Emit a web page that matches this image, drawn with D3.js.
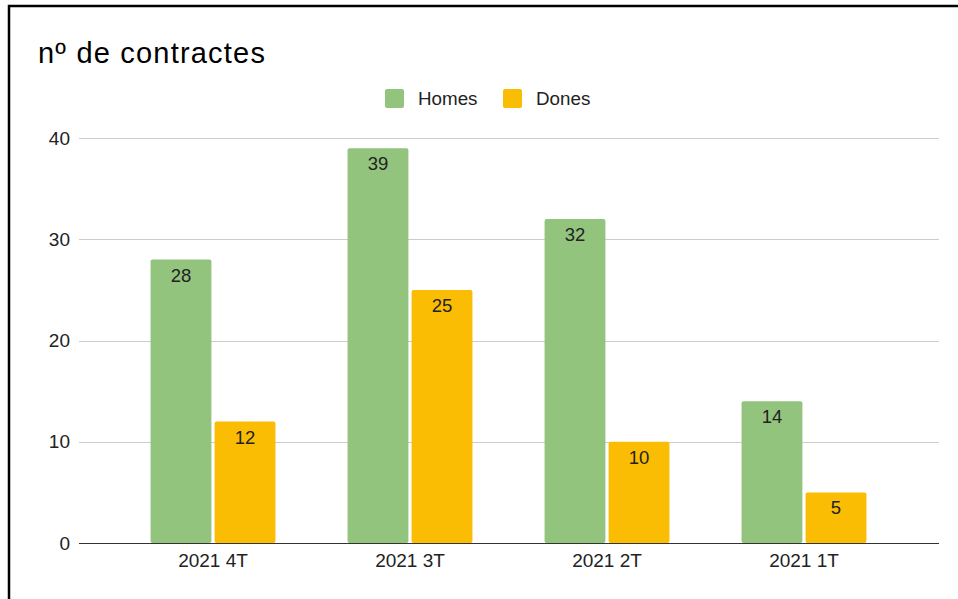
<!DOCTYPE html>
<html><head><meta charset="utf-8">
<script src="https://cdn.jsdelivr.net/npm/d3@7"></script>
<style>body{margin:0;background:#fff}svg{display:block}text{font-family:"Liberation Sans",Arial,sans-serif}</style>
</head><body>
<script>
const categories = ["2021 4T", "2021 3T", "2021 2T", "2021 1T"];
const seriesNames = ["Homes", "Dones"];
const homes = [28, 39, 32, 14];
const dones = [12, 25, 10, 5];
const yTicks = [0, 10, 20, 30, 40];
const title = "nº de contractes";
const colors = ["#93c47d", "#fbbc04"];

const W = 958, H = 599;
const svg = d3.select("body").append("svg").attr("width", W).attr("height", H);

// frame
svg.append("rect").attr("x", 9).attr("y", 6).attr("width", 1000).attr("height", 700)
  .attr("fill", "#fff").attr("stroke", "#000").attr("stroke-width", 2.5);

svg.append("text").attr("x", 38).attr("y", 63).attr("font-size", 29).attr("letter-spacing", "1.2px")
  .attr("fill", "#000").text(title);

const y = d3.scaleLinear().domain([0, 40]).range([543, 138]);
const x = d3.scaleBand().domain(categories).range([114.5, 902.5]).paddingInner(0.366).paddingOuter(0.183);
const xs = d3.scaleBand().domain(seriesNames).range([0, x.bandwidth()]).paddingInner(0.05);

// gridlines
svg.append("g").selectAll("line").data(yTicks.filter(d => d !== 0)).join("line")
  .attr("x1", 79).attr("x2", 939).attr("y1", d => Math.round(y(d)) + 0.5).attr("y2", d => Math.round(y(d)) + 0.5)
  .attr("stroke", "#cccccc").attr("stroke-width", 1);

// y axis labels
const yAxis = d3.axisLeft(y).tickValues(yTicks).tickSize(0).tickPadding(0);
const yg = svg.append("g").attr("transform", "translate(70,0)").call(yAxis);
yg.select(".domain").remove();
yg.selectAll("text").attr("font-size", 19).attr("fill", "#222").attr("font-family", "Liberation Sans, Arial, sans-serif");

const data = categories.map((c, i) => ({cat: c, vals: [homes[i], dones[i]]}));
const groups = svg.append("g").selectAll("g").data(data).join("g")
  .attr("transform", d => `translate(${x(d.cat)},0)`);

groups.selectAll("rect").data(d => d.vals.map((v, j) => ({v, s: seriesNames[j], j}))).join("rect")
  .attr("x", d => xs(d.s)).attr("width", xs.bandwidth())
  .attr("y", d => y(d.v)).attr("height", d => y(0) - y(d.v))
  .attr("rx", 2).attr("fill", d => colors[d.j]);

groups.selectAll("text").data(d => d.vals.map((v, j) => ({v, s: seriesNames[j]}))).join("text")
  .attr("x", d => xs(d.s) + xs.bandwidth() / 2).attr("y", d => y(d.v) + 22)
  .attr("text-anchor", "middle").attr("font-size", 18.5).attr("fill", "#222").text(d => d.v);

// baseline
svg.append("line").attr("x1", 79).attr("x2", 939).attr("y1", 543.5).attr("y2", 543.5).attr("stroke", "#333").attr("stroke-width", 1);

// x axis labels
const xAxis = d3.axisBottom(x).tickSize(0).tickPadding(0);
const xg = svg.append("g").attr("transform", "translate(0,567)").call(xAxis);
xg.select(".domain").remove();
xg.selectAll("text").attr("font-size", 19).attr("fill", "#222").attr("font-family", "Liberation Sans, Arial, sans-serif").attr("dy", "0");

// legend
const legendX = [385, 503];
const lg = svg.append("g").selectAll("g").data(seriesNames).join("g")
  .attr("transform", (d, i) => `translate(${legendX[i]},89)`);
lg.append("rect").attr("width", 19).attr("height", 19).attr("rx", 2).attr("fill", (d, i) => colors[i]);
lg.append("text").attr("x", 33).attr("y", 9.5).attr("dy", "0.35em").attr("font-size", 18.8).attr("fill", "#222").text(d => d);
</script>
</body></html>
